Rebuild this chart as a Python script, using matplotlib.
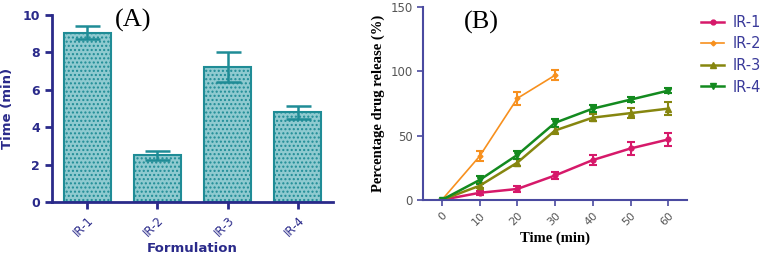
import matplotlib
matplotlib.use("Agg")
import matplotlib.pyplot as plt
from matplotlib.lines import Line2D
import numpy as np

# Panel A data
formulations = ["IR-1", "IR-2", "IR-3", "IR-4"]
time_min = [9.05, 2.5, 7.2, 4.8]
time_err = [0.35, 0.25, 0.8, 0.35]

# Panel B data
t = [0, 10, 20, 30, 40, 50, 60]
ir1 = [0, 5.5, 8.5, 19, 31, 40, 47]
ir1_err = [0, 1.5, 2, 3, 4, 5, 5]
ir2 = [0, 34, 79, 97]
ir2_err = [0, 4, 5, 4]
ir3 = [0, 11, 29, 54, 64, 67.5, 71]
ir3_err = [0, 2, 3, 3, 3, 4, 5]
ir4 = [0, 15.5, 35, 60, 71, 78, 85]
ir4_err = [0, 3, 3, 3, 3, 2, 2]

navy = "#2a2a8a"
teal = "#1f8c96"

fig = plt.figure(figsize=(7.72, 2.63), dpi=100)

# ---- Panel A ----
ax1 = fig.add_axes([0.0674, 0.232, 0.364, 0.711])
x = np.arange(len(formulations))
ax1.bar(x, time_min, width=0.67, facecolor="#8fcad0", edgecolor=teal,
        hatch="....", linewidth=1.5, zorder=2)
ax1.errorbar(x, time_min, yerr=time_err, fmt="none", ecolor=teal,
             elinewidth=1.8, capsize=9, capthick=1.8, zorder=3)
ax1.set_xlim(-0.5, 3.5)
ax1.set_ylim(0, 10)
ax1.set_yticks([0, 2, 4, 6, 8, 10])
ax1.set_xticks(x)
ax1.set_xticklabels(formulations, rotation=45, ha="right", rotation_mode="anchor",
                    color=navy, fontsize=8.5, family="DejaVu Sans")
for lab in ax1.get_yticklabels():
    lab.set_fontweight("bold")
    lab.set_color(navy)
    lab.set_fontsize(9)
ax1.set_ylabel("Time (min)", color=navy, fontweight="bold", fontsize=9.5, labelpad=6)
ax1.set_xlabel("Formulation", color=navy, fontweight="bold", fontsize=9.5, labelpad=2)
for s in ["top", "right"]:
    ax1.spines[s].set_visible(False)
for s in ["left", "bottom"]:
    ax1.spines[s].set_color(navy)
    ax1.spines[s].set_linewidth(2)
ax1.tick_params(axis="both", colors=navy, width=2, length=5)
ax1.text(0.29, 0.97, "(A)", transform=ax1.transAxes, ha="center", va="center",
         fontsize=19, family="Liberation Serif", color="black")

# ---- Panel B ----
ax2 = fig.add_axes([0.548, 0.240, 0.342, 0.733])
series = [
    ("IR-1", t, ir1, ir1_err, "#d6196a", "o", 3.5, 1.8),
    ("IR-2", t[:len(ir2)], ir2, ir2_err, "#f7901e", "D", 2.5, 1.2),
    ("IR-3", t, ir3, ir3_err, "#86860f", "^", 5, 1.8),
    ("IR-4", t, ir4, ir4_err, "#138a1f", "v", 5, 1.8),
]
handles = []
for name, xs, ys, es, c, m, ms, lw in series:
    ax2.errorbar(xs, ys, yerr=es, color=c, marker=m, markersize=ms, linewidth=lw,
                 elinewidth=1.5, capsize=3, capthick=1.5)
    handles.append(Line2D([], [], color=c, marker=m, markersize=ms, linewidth=lw, label=name))
ax2.set_xlim(-5, 65)
ax2.set_ylim(0, 150)
ax2.set_yticks([0, 50, 100, 150])
ax2.set_xticks(t)
ax2.set_xticklabels([str(v) for v in t], rotation=45, ha="right", rotation_mode="anchor",
                    fontsize=8)
for lab in ax2.get_yticklabels():
    lab.set_fontsize(8.5)
ax2.set_ylabel("Percentage drug release (%)", family="Liberation Serif",
               fontweight="bold", fontsize=10.5, labelpad=4)
ax2.set_xlabel("Time (min)", family="Liberation Serif", fontweight="bold",
               fontsize=10.5, labelpad=3)
for s in ["top", "right"]:
    ax2.spines[s].set_visible(False)
for s in ["left", "bottom"]:
    ax2.spines[s].set_color("#4a4aa0")
    ax2.spines[s].set_linewidth(1.5)
ax2.tick_params(axis="both", colors="#4a4aa0", width=1.2, length=4)
for lab in ax2.get_xticklabels() + ax2.get_yticklabels():
    lab.set_color("#555555")
ax2.text(0.22, 0.92, "(B)", transform=ax2.transAxes, ha="center", va="center",
         fontsize=19, family="Liberation Serif", color="black")

leg = ax2.legend(handles=handles, loc="upper left", bbox_to_anchor=(1.03, 0.99),
                 frameon=False, fontsize=10.5, handlelength=1.6, handletextpad=0.6,
                 labelspacing=0.45, borderaxespad=0)
for txt in leg.get_texts():
    txt.set_color("#3a3a9a")

fig.savefig("out.png", dpi=100)
